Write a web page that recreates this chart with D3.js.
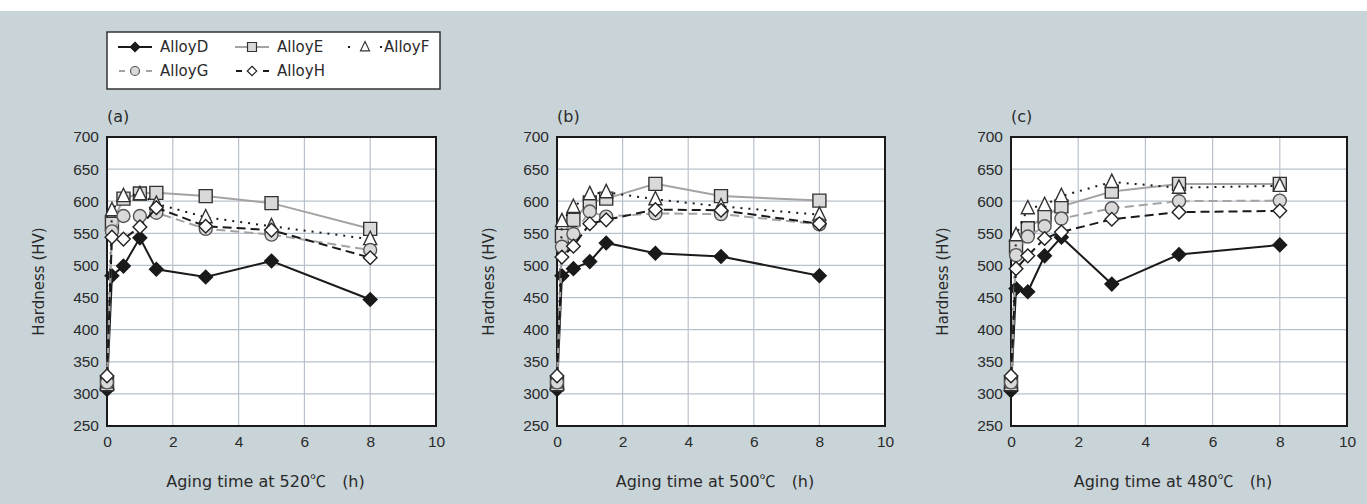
<!DOCTYPE html>
<html>
<head>
<meta charset="utf-8">
<script src="https://cdn.jsdelivr.net/npm/d3@7"></script>
<style>
  html, body { margin: 0; padding: 0; background: #fff; }
  svg { display: block; font-family: "DejaVu Sans", "Noto Sans CJK JP", sans-serif; }
</style>
</head>
<body>
<svg id="chart" width="1367" height="504"></svg>
<script>
// aging times (h)
const times = [0, 0.15, 0.5, 1, 1.5, 3, 5, 8];
const alloys = ["AlloyD", "AlloyE", "AlloyF", "AlloyG", "AlloyH"];
const yTicks = [250, 300, 350, 400, 450, 500, 550, 600, 650, 700];
const xTicks = [0, 2, 4, 6, 8, 10];
const panelLabels = ["(a)", "(b)", "(c)"];
const temps = ["520", "500", "480"];

// hardness at 520C
const a_D = [307, 484, 499, 543, 494, 482, 507, 447];
const a_E = [315, 565, 604, 612, 613, 608, 597, 557];
const a_F = [318, 586, 608, 611, 596, 575, 561, 541];
const a_G = [318, 553, 577, 577, 582, 557, 548, 524];
const a_H = [328, 544, 541, 560, 590, 561, 555, 512];
// 500C
const b_D = [307, 484, 495, 506, 535, 519, 514, 484];
const b_E = [315, 546, 571, 598, 604, 627, 608, 601];
const b_F = [318, 569, 591, 611, 614, 603, 592, 579];
const b_G = [318, 529, 549, 584, 576, 581, 580, 564];
const b_H = [328, 513, 530, 565, 571, 587, 586, 565];
// 480C
const c_D = [305, 464, 459, 515, 544, 471, 517, 532];
const c_E = [315, 529, 558, 576, 592, 615, 627, 627];
const c_F = [318, 547, 589, 594, 608, 630, 621, 624];
const c_G = [318, 516, 545, 561, 573, 589, 600, 601];
const c_H = [328, 495, 515, 542, 552, 572, 583, 585];

const panelData = [
  [a_D, a_E, a_F, a_G, a_H],
  [b_D, b_E, b_F, b_G, b_H],
  [c_D, c_E, c_F, c_G, c_H]
];

const style = {
  AlloyD: {line: "#1a1a1a", dash: null, width: 2, shape: "diamond", fill: "#1a1a1a", stroke: "#1a1a1a"},
  AlloyE: {line: "#a3a3a3", dash: null, width: 2, shape: "square", fill: "#d9d9d9", stroke: "#333"},
  AlloyF: {line: "#1a1a1a", dash: "2,6", width: 2, shape: "triangle", fill: "#fff", stroke: "#333"},
  AlloyG: {line: "#a3a3a3", dash: "9,5", width: 2, shape: "circle", fill: "#d9d9d9", stroke: "#555"},
  AlloyH: {line: "#1a1a1a", dash: "9,5", width: 2, shape: "diamond", fill: "#fff", stroke: "#222"}
};

function shapePath(shape, s) {
  // s = half size
  if (shape === "diamond") return `M0,${-s*1.05}L${s*1.05},0L0,${s*1.05}L${-s*1.05},0Z`;
  if (shape === "square") return `M${-s},${-s}H${s}V${s}H${-s}Z`;
  if (shape === "triangle") return `M0,${-s*1.2}L${s},${s*0.85}L${-s},${s*0.85}Z`;
  if (shape === "circle") return d3.symbol(d3.symbolCircle, Math.PI*s*s)();
}

const svg = d3.select("#chart");
svg.append("rect").attr("width", 1367).attr("height", 504).attr("fill", "#c9d4d9");
svg.append("rect").attr("width", 1367).attr("height", 11).attr("fill", "#fff");

const panels = [
  {left: 107, right: 436},
  {left: 557, right: 885},
  {left: 1011, right: 1347}
];
const plotTop = 137, plotBottom = 426;
const textColor = "#2a2a2a";

panels.forEach((p, pi) => {
  const x = d3.scaleLinear().domain([0, 10]).range([p.left, p.right]);
  const y = d3.scaleLinear().domain([250, 700]).range([plotBottom, plotTop]);
  const g = svg.append("g");

  g.append("rect")
    .attr("x", p.left).attr("y", plotTop)
    .attr("width", p.right - p.left).attr("height", plotBottom - plotTop)
    .attr("fill", "#fff");

  // grid
  g.append("g").selectAll("line").data(yTicks.slice(1, -1)).join("line")
    .attr("x1", p.left).attr("x2", p.right)
    .attr("y1", d => y(d)).attr("y2", d => y(d))
    .attr("stroke", "#b9c2cc").attr("stroke-width", 1.2);
  g.append("g").selectAll("line").data(xTicks.slice(1, -1)).join("line")
    .attr("y1", plotTop).attr("y2", plotBottom)
    .attr("x1", d => x(d)).attr("x2", d => x(d))
    .attr("stroke", "#b9c2cc").attr("stroke-width", 1.2);

  g.append("rect")
    .attr("x", p.left).attr("y", plotTop)
    .attr("width", p.right - p.left).attr("height", plotBottom - plotTop)
    .attr("fill", "none").attr("stroke", "#1a1a1a").attr("stroke-width", 2);

  // axes
  const yAxis = d3.axisLeft(y).tickValues(yTicks).tickSize(0).tickPadding(8);
  g.append("g").attr("transform", `translate(${p.left},0)`).call(yAxis)
    .call(s => s.select(".domain").remove())
    .selectAll("text").attr("font-size", 15.5).attr("fill", textColor)
    .attr("font-family", "inherit");
  const xAxis = d3.axisBottom(x).tickValues(xTicks).tickSize(0).tickPadding(10);
  g.append("g").attr("transform", `translate(0,${plotBottom})`).call(xAxis)
    .call(s => s.select(".domain").remove())
    .selectAll("text").attr("font-size", 15.5).attr("fill", textColor)
    .attr("font-family", "inherit");

  g.append("text")
    .attr("transform", `translate(${p.left - 68},${(plotTop + plotBottom) / 2}) rotate(-90)`)
    .attr("text-anchor", "middle").attr("dy", "0.35em")
    .attr("font-size", 15).attr("fill", textColor)
    .text("Hardness (HV)");

  const xt = g.append("text")
    .attr("x", (p.left + p.right) / 2 - 6).attr("y", 481)
    .attr("text-anchor", "middle").attr("dy", "0.35em")
    .attr("font-size", 16).attr("fill", textColor)
    .attr("xml:space", "preserve");
  xt.append("tspan").text(`Aging time at ${temps[pi]}`);
  xt.append("tspan").attr("font-family", "Noto Sans CJK JP").text("℃　");
  xt.append("tspan").text("(h)");

  g.append("text")
    .attr("x", p.left).attr("y", 116)
    .attr("dy", "0.35em")
    .attr("font-size", 16).attr("fill", textColor)
    .text(panelLabels[pi]);

  const line = d3.line().x((d, i) => x(times[i])).y(d => y(d));

  alloys.forEach((name, si) => {
    const st = style[name];
    const vals = panelData[pi][si];
    const sg = g.append("g");
    sg.append("path").datum(vals)
      .attr("d", line)
      .attr("fill", "none")
      .attr("stroke", st.line)
      .attr("stroke-width", st.width)
      .attr("stroke-dasharray", st.dash);
    sg.selectAll("path.m").data(vals).join("path")
      .attr("class", "m")
      .attr("transform", (d, i) => `translate(${x(times[i])},${y(d)})`)
      .attr("d", shapePath(st.shape, 6.5))
      .attr("fill", st.fill)
      .attr("stroke", st.stroke)
      .attr("stroke-width", 1.4);
  });
});

// legend
const lg = svg.append("g");
lg.append("rect").attr("x", 107).attr("y", 32).attr("width", 333).attr("height", 57)
  .attr("fill", "#fff").attr("stroke", "#333").attr("stroke-width", 1.5);

const legendPos = [
  {x: 118, y: 47}, {x: 235, y: 47}, {x: 348, y: 47},
  {x: 118, y: 71}, {x: 235, y: 71}
];
alloys.forEach((name, i) => {
  const st = style[name];
  const lp = legendPos[i];
  const item = lg.append("g");
  if (name === "AlloyF") {
    item.append("line").attr("x1", lp.x).attr("x2", lp.x + 34)
      .attr("y1", lp.y).attr("y2", lp.y)
      .attr("stroke", st.line).attr("stroke-width", 2).attr("stroke-dasharray", "2,30");
  } else {
    item.append("line").attr("x1", lp.x).attr("x2", lp.x + 34)
      .attr("y1", lp.y).attr("y2", lp.y)
      .attr("stroke", st.line).attr("stroke-width", 2)
      .attr("stroke-dasharray", st.dash ? "6,21" : null)
      .attr("stroke-dashoffset", st.dash ? -1 : null);
  }
  item.append("path")
    .attr("transform", `translate(${lp.x + 17},${lp.y})`)
    .attr("d", shapePath(st.shape, 4.5))
    .attr("fill", st.fill).attr("stroke", st.stroke).attr("stroke-width", 1.2);
  item.append("text")
    .attr("x", lp.x + (name === "AlloyF" ? 36 : 42)).attr("y", lp.y)
    .attr("dy", "0.35em").attr("font-size", 15).attr("fill", textColor)
    .text(name);
});
</script>
</body>
</html>
